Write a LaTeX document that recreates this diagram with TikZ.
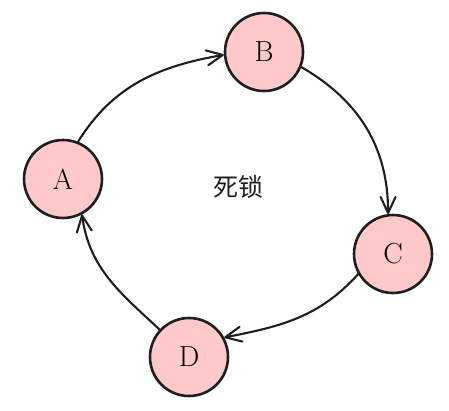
\documentclass[tikz,border=0pt]{standalone}
\usepackage{fontspec}
\newfontfamily\cjk{Noto Sans CJK SC}
\usetikzlibrary{arrows.meta}
\definecolor{nodepink}{HTML}{FFC9C9}
\definecolor{inkdark}{HTML}{1E1E1E}

\begin{document}
\begin{tikzpicture}[x=1pt, y=1pt,
    proc/.style={circle, draw=inkdark, line width=2.6pt, fill=nodepink,
                 minimum size=78pt, inner sep=0pt,
                 font=\fontsize{29}{32}\selectfont},
    wait/.style={draw=inkdark, line width=2.1pt, line cap=round,
                 -{Straight Barb[length=16pt, width=15pt, round]}}]
  \useasboundingbox (0,0) rectangle (449,-410);
  \node[proc] (a) at (63,-179) {A};
  \node[proc] (b) at (264,-52) {B};
  \node[proc] (c) at (393,-254) {C};
  \node[proc] (d) at (189,-357) {D};
  \node[font=\cjk\fontsize{25}{28}\selectfont, text=inkdark] (lock) at (238,-187) {死锁};
  \draw[wait] (a.68) to[out=58, in=190] (b.184);
  \draw[wait] (b.-22) to[out=-30, in=90] (c.97);
  \draw[wait] (c.210) to[out=228, in=11] (d.29);
  \draw[wait] (d.137) to[out=137, in=-82] (a.-62);
\end{tikzpicture}
\end{document}
